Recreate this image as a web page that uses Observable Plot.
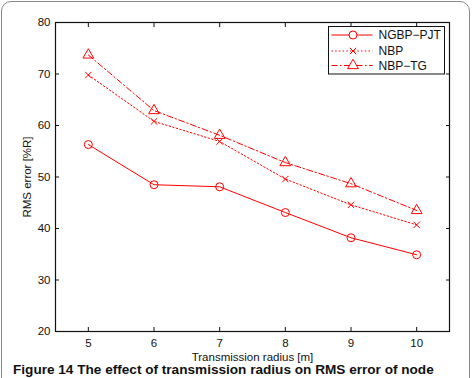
<!DOCTYPE html>
<html><head><meta charset="utf-8">
<script src="https://cdn.jsdelivr.net/npm/d3@7"></script>
<script src="https://cdn.jsdelivr.net/npm/@observablehq/plot@0.6"></script>
<style>
html,body{margin:0;padding:0;background:#fff;overflow:hidden;width:472px;height:378px;}
#wrap{position:relative;width:472px;height:378px;overflow:hidden;font-family:"Liberation Sans",Arial,sans-serif;}
#border{position:absolute;left:1px;top:1px;width:469px;height:420px;border:1.5px solid #8a8a8a;border-radius:10px;box-sizing:border-box;pointer-events:none;}
#caption{position:absolute;left:13px;top:363px;font-weight:bold;font-size:13.6px;line-height:14px;white-space:nowrap;color:#111;}
#chart{position:absolute;left:0;top:0;}
#legend{position:absolute;left:0;top:0;}
</style>
</head><body>
<div id="wrap">
  <div id="chart"></div>
  <div id="legend"></div>
  <div id="border"></div>
  <div id="caption">Figure 14 The effect of transmission radius on RMS error of node</div>
</div>
<script>
const radius = [5, 6, 7, 8, 9, 10];
const ngbpPjt = [56.3, 48.5, 48.1, 43.1, 38.2, 34.9];
const nbp = [69.8, 60.8, 56.9, 49.6, 44.6, 40.7];
const nbpTg = [73.7, 62.9, 58.1, 52.8, 48.7, 43.5];
const seriesNames = ["NGBP\u2212PJT", "NBP", "NBP\u2212TG"];
const xTicks = [5, 6, 7, 8, 9, 10];
const yTicks = [20, 30, 40, 50, 60, 70, 80];

const seriesValues = [ngbpPjt, nbp, nbpTg];
const seriesStyle = [
  {dash: null, symbol: "circle", r: 4},
  {dash: "1.5,2.2", symbol: "times", r: 3},
  {dash: "6,2.5,1.5,2.5", symbol: "triangle", r: 4}
];
const rows = [];
seriesNames.forEach((name, i) => {
  radius.forEach((x, j) => rows.push({series: name, x, y: seriesValues[i][j]}));
});

const red = "#ff0000";
const marks = [];
seriesNames.forEach((name, i) => {
  const data = rows.filter(d => d.series === name);
  const st = seriesStyle[i];
  marks.push(Plot.line(data, {x: "x", y: "y", stroke: red, strokeWidth: 1, strokeDasharray: st.dash}));
  marks.push(Plot.dot(data, {x: "x", y: "y", symbol: () => st.symbol, r: st.r, stroke: red, strokeWidth: 1, fill: "none"}));
});

const chart = Plot.plot({
  width: 472,
  height: 378,
  marginLeft: 55,
  marginRight: 23,
  marginTop: 22,
  marginBottom: 47,
  style: {fontFamily: "'Liberation Sans', Arial, sans-serif", fontSize: "11.5px", color: "#111", background: "transparent"},
  x: {domain: [4.5, 10.5]},
  y: {domain: [20, 80]},
  symbol: {type: "identity"},
  marks: [
    ...marks,
    Plot.frame({stroke: "#111", strokeWidth: 1.2}),
    Plot.axisX({anchor: "bottom", ticks: xTicks, tickSize: 0, tickPadding: 7, tickFormat: d => String(d), fontSize: 11.5,
      label: "Transmission radius [m]", labelAnchor: "center", labelArrow: "none", labelOffset: 29}),
    Plot.axisX({anchor: "bottom", ticks: xTicks, tickSize: -4, tickFormat: () => "", label: null}),
    Plot.axisX({anchor: "top", ticks: xTicks, tickSize: -4, tickFormat: () => "", label: null}),
    Plot.axisY({anchor: "left", ticks: yTicks, tickSize: 0, tickPadding: 5, tickFormat: d => String(d), fontSize: 11.5,
      label: "RMS error [%R]", labelAnchor: "center", labelArrow: "none", labelOffset: 33}),
    Plot.axisY({anchor: "left", ticks: yTicks, tickSize: -4, tickFormat: () => "", label: null}),
    Plot.axisY({anchor: "right", ticks: yTicks, tickSize: -4, tickFormat: () => "", label: null})
  ]
});
document.getElementById("chart").appendChild(chart);

// legend
const lg = d3.select("#legend").append("svg").attr("width", 472).attr("height", 378)
  .style("font-family", "'Liberation Sans', Arial, sans-serif");
const box = {x: 328.5, y: 26.5, w: 116, h: 47.5};
lg.append("rect").attr("x", box.x).attr("y", box.y).attr("width", box.w).attr("height", box.h)
  .attr("fill", "white").attr("stroke", "#111").attr("stroke-width", 1);
const rowY = [35, 51, 65.5];
seriesNames.forEach((name, i) => {
  const st = seriesStyle[i];
  const g = lg.append("g").attr("transform", `translate(0,${rowY[i]})`);
  g.append("line").attr("x1", box.x + 3).attr("x2", box.x + 44).attr("y1", 0).attr("y2", 0)
    .attr("stroke", red).attr("stroke-width", 1).attr("stroke-dasharray", st.dash);
  const sym = {circle: d3.symbolCircle, times: d3.symbolTimes, triangle: d3.symbolTriangle}[st.symbol];
  g.append("path").attr("d", d3.symbol(sym, Math.PI * st.r * st.r)()).attr("transform", `translate(${box.x + 24.5},0)`)
    .attr("fill", "white").attr("stroke", red).attr("stroke-width", 1);
  g.append("text").attr("x", box.x + 50).attr("y", 0).attr("dy", "0.36em").attr("font-size", 12).attr("fill", "#111").text(name);
});
</script>
</body></html>
